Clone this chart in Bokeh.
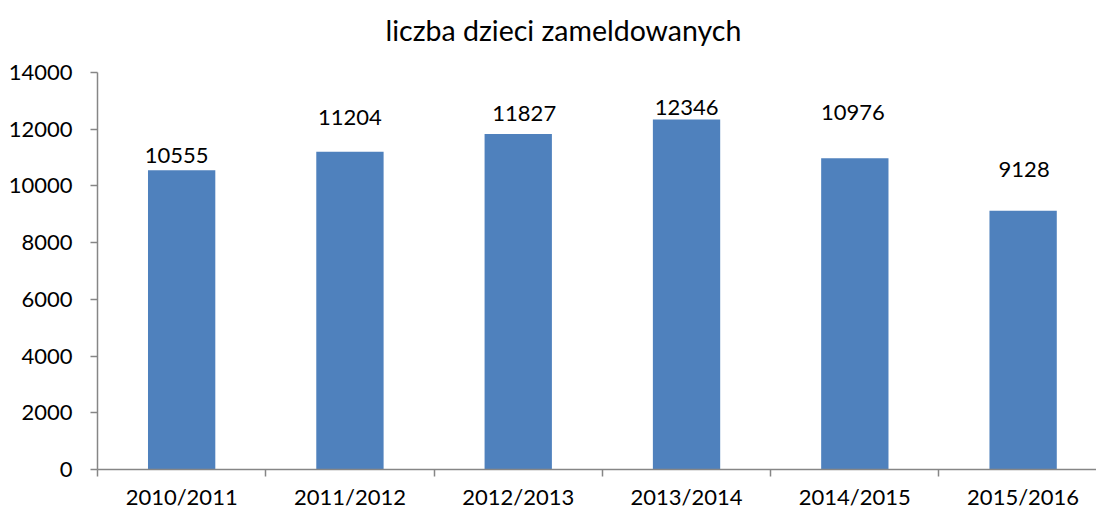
from bokeh.plotting import figure
from bokeh.models import Range1d, FixedTicker, ColumnDataSource, LinearAxis
from bokeh.embed import file_html
from bokeh.resources import INLINE
from bokeh.core.properties import value

title_text = "liczba dzieci zameldowanych"
categories = ["2010/2011", "2011/2012", "2012/2013", "2013/2014", "2014/2015", "2015/2016"]
counts = [10555, 11204, 11827, 12346, 10976, 9128]
y_ticks = [0, 2000, 4000, 6000, 8000, 10000, 12000, 14000]

# label placement offsets in pixels (as positioned in the source chart)
label_dx = [-5, 0, 6, 0, -2, 1]
label_dy = [15, 34, 21, 12, 46, 41]

FONT = "Lato"
GRAY = "#868686"

pos = [i + 0.5 for i in range(len(categories))]
src = ColumnDataSource(dict(
    x=pos, top=counts, label=[str(v) for v in counts],
    dx=label_dx, dy=[-d for d in label_dy],
))

p = figure(width=1096, height=512, output_backend="svg", toolbar_location=None,
           x_range=Range1d(0, 5.936), y_range=Range1d(0, 14000),
           min_border_left=97, min_border_right=0, min_border_top=72, min_border_bottom=43,
           title=title_text)
p.outline_line_color = None
p.xgrid.visible = False
p.ygrid.visible = False

xa = p.below[0]
ya = p.left[0]

# invisible top axis used only as vertical spacing between title and plot area
spacer = LinearAxis(ticker=FixedTicker(ticks=[pos[0]], minor_ticks=[]), axis_line_color=None,
                    major_tick_out=21, major_tick_in=0, minor_tick_out=0, minor_tick_in=0,
                    major_tick_line_color=None, minor_tick_line_color=None,
                    major_label_overrides={pos[0]: ""},
                    major_label_standoff=0, major_label_text_font_size="1px")
p.add_layout(spacer, "above")

p.title.align = "left"
p.title.offset = 288
p.title.standoff = 10
p.title.text_font = FONT
p.title.text_font_size = "28.5px"
p.title.text_font_style = "normal"
p.title.text_color = "#000000"

p.vbar(x="x", top="top", width=0.4, source=src, fill_color="#4F81BD", line_color=None)

p.text(x="x", y="top", text="label", x_offset="dx", y_offset="dy", source=src,
       text_font=value(FONT), text_font_size="22px", text_align="center",
       text_baseline="middle", text_color="#000000")

xa.ticker = FixedTicker(ticks=pos, minor_ticks=list(range(len(categories) + 1)))
xa.major_label_overrides = {x: c for x, c in zip(pos, categories)}
xa.major_tick_out = 0
xa.major_tick_in = 0
xa.minor_tick_out = 7
xa.minor_tick_in = 0
xa.minor_tick_line_color = GRAY
xa.minor_tick_line_width = 1.5
xa.axis_line_color = GRAY
xa.axis_line_width = 1.5
xa.major_label_text_font = FONT
xa.major_label_text_font_size = "22px"
xa.major_label_text_color = "#000000"
xa.major_label_standoff = 6

ya.ticker = FixedTicker(ticks=y_ticks, minor_ticks=[])
ya.major_tick_out = 7
ya.major_tick_in = 0
ya.major_tick_line_color = GRAY
ya.major_tick_line_width = 1.5
ya.axis_line_color = GRAY
ya.axis_line_width = 1.5
ya.major_label_text_font = FONT
ya.major_label_text_font_size = "22px"
ya.major_label_text_color = "#000000"
ya.major_label_standoff = 18

open("out.html", "w").write(file_html(p, INLINE))
